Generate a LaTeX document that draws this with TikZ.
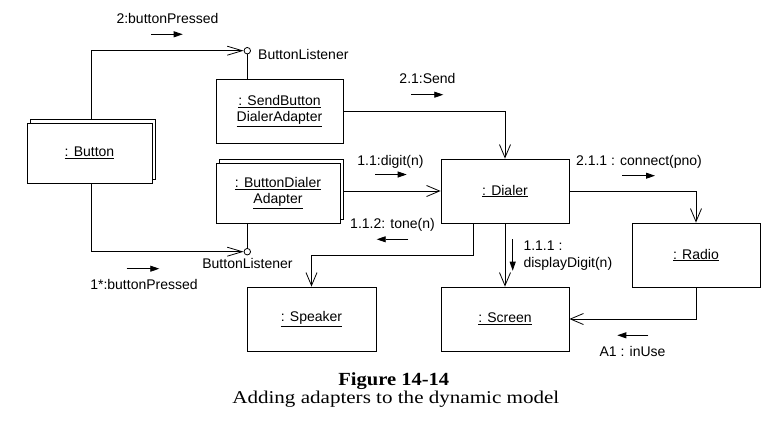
\documentclass[tikz,border=0pt]{standalone}
\usepackage{fontspec}
\setmainfont{Liberation Serif}
\newfontfamily\sansf{Liberation Sans}
\usetikzlibrary{arrows.meta,shadows,calc}
\begin{document}
\begin{tikzpicture}[x=1pt,y=-1pt,
  every node/.style={font=\sansf\fontsize{14}{16.6}\selectfont},
  obj/.style={draw,fill=white,line width=0.8pt,inner sep=0pt,align=center},
  multi/.style={copy shadow={shadow xshift=3pt,shadow yshift=4pt}},
  conn/.style={line width=0.8pt},
  openarrow/.style={conn,-{Straight Barb[length=13pt,width=11pt]}},
  msg/.style={line width=0.8pt,-{Triangle[length=9pt,width=6pt]}},
  lolli/.style={draw,fill=white,circle,inner sep=0pt,minimum size=6.5pt,line width=0.8pt},
  lbl/.style={anchor=base,inner sep=0pt}]
\useasboundingbox (0,0) rectangle (780,426);

% objects
\node[obj,multi,minimum width=125pt,minimum height=60pt] (button) at (89.5,153) {\underline{: Button}};
\node[obj,minimum width=127pt,minimum height=64pt] (send) at (279.5,111) {\underline{: SendButton}\\\underline{DialerAdapter}};
\node[obj,multi,minimum width=124pt,minimum height=60pt] (bda) at (278,193) {\underline{: ButtonDialer}\\\underline{Adapter}};
\node[obj,minimum width=128pt,minimum height=64pt] (dialer) at (505,191) {\underline{: Dialer}};
\node[obj,minimum width=128pt,minimum height=64pt] (radio) at (696,255) {\underline{: Radio}};
\node[obj,minimum width=128pt,minimum height=64pt] (screen) at (505,319) {\underline{: Screen}};
\node[obj,minimum width=129pt,minimum height=64pt] (speaker) at (311.5,319) {\underline{: Speaker}};

% interfaces
\node[lolli] (ltop) at (247.3,50.7) {};
\node[lolli] (lbot) at (247.3,251.7) {};
\draw[conn] (ltop.south) -- (ltop |- send.north);
\draw[conn] (lbot.north) -- (lbot |- bda.south);
\coordinate (btop) at ($(button.north)+(2,-4)$);
\coordinate (bbot) at ($(button.south)+(2,0)$);
\draw[conn,-{Straight Barb[length=15pt,width=9pt]}] (btop) |- (ltop.west);
\draw[conn,-{Straight Barb[length=15pt,width=9pt]}] (bbot) |- (lbot.west);

% links
\coordinate (bdaE) at ($(bda.east)+(3,0)$);
\coordinate (ds) at ($(dialer.south)+(-32,0)$);
\draw[openarrow] (send.east) -| (dialer.north);
\draw[openarrow] (bdaE |- dialer.west) -- (dialer.west);
\draw[openarrow] (ds) -- ++(0,32) -| (speaker.north);
\draw[openarrow] (dialer.south) -- (screen.north);
\draw[openarrow] (dialer.east) -| (radio.north);
\draw[openarrow] (radio.south) |- (screen.east);

% labels
\node[lbl] (t1) at (167.5,23) {2:buttonPressed};
\node[lbl,anchor=base west] (t2) at (258,59) {ButtonListener};
\node[lbl] (t3) at (247.5,268.5) {ButtonListener};
\node[lbl] (t4) at (144,289) {1*:buttonPressed};
\node[lbl] (t5) at (427.5,83.3) {2.1:Send};
\node[lbl] (t6) at (390.5,165) {1.1:digit(n)};
\node[lbl] (t7) at (392.5,228.5) {1.1.2: tone(n)};
\node[lbl,anchor=base west] (t8) at (523.3,250.7) {1.1.1 :};
\node[lbl,anchor=base west] (t9) at (523.3,267.3) {displayDigit(n)};
\node[lbl] (t10) at (639,165.3) {2.1.1 : connect(pno)};
\node[lbl] (t11) at (632.5,356) {A1 : inUse};

% message arrows
\coordinate (m1a) at (151,34.3); \coordinate (m1b) at (182.7,34.3);
\coordinate (m2a) at (126.7,268.7); \coordinate (m2b) at (159.3,268.7);
\coordinate (m3a) at (411,94.7); \coordinate (m3b) at (443.3,94.7);
\coordinate (m4a) at (375,174.5); \coordinate (m4b) at (406.7,174.5);
\coordinate (m5a) at (408.3,239.3); \coordinate (m5b) at (376.7,239.3);
\coordinate (m6a) at (512.7,239.3); \coordinate (m6b) at (512.7,270.7);
\coordinate (m7a) at (622.3,175.7); \coordinate (m7b) at (655,175.7);
\coordinate (m8a) at (648.3,335.3); \coordinate (m8b) at (617.3,335.3);
\foreach \m in {1,...,8} {\draw[msg] (m\m a) -- (m\m b);}

% caption
\node[lbl,xscale=1.11,font=\bfseries\fontsize{18.5}{20}\selectfont] (cap1) at (393.8,385) {Figure 14-14};
\node[lbl,xscale=1.17,font=\fontsize{18}{20}\selectfont] (cap2) at (395.8,403.5) {Adding adapters to the dynamic model};
\end{tikzpicture}
\end{document}
